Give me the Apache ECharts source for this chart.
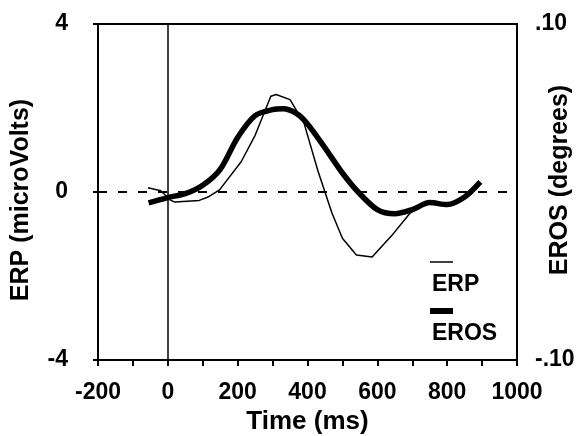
<!DOCTYPE html>
<html>
<head>
<meta charset="utf-8">
<script src="https://cdn.jsdelivr.net/npm/echarts@6/dist/echarts.min.js"></script>
<style>
  html, body { margin: 0; padding: 0; background: #fff; }
  #main { width: 580px; height: 436px; }
</style>
</head>
<body>
<div id="main"></div>
<script>
// ERP (thin line), microvolts
var erpTime = [-57, -20, 5, 20, 90, 115, 148, 210, 250, 295, 310, 350, 390, 430, 470, 500, 540, 585, 640, 694, 740, 790, 840, 895]
var erpValues = [0.1, 0.03, -0.18, -0.24, -0.2, -0.12, 0.05, 0.72, 1.35, 2.28, 2.32, 2.2, 1.64, 0.5, -0.5, -1.1, -1.5, -1.55, -1.05, -0.5, -0.26, -0.32, -0.17, 0.22]

// EROS (thick line), degrees
var erosTime = [-55, 0, 50, 100, 150, 200, 250, 300, 330, 370, 400, 450, 500, 545, 600, 650, 700, 750, 800, 850, 895]
var erosValues = [-0.0065, -0.0033, -0.001, 0.004, 0.0135, 0.0325, 0.0455, 0.049, 0.0495, 0.0465, 0.0405, 0.0263, 0.0113, 0, -0.0105, -0.013, -0.0105, -0.0063, -0.0075, -0.003, 0.006]

var xTicks = [-200, 1000, 200]
var font = 'Liberation Sans, Arial, sans-serif'

var zip = (xs, ys) => xs.map((x, i) => [x, ys[i]])

var chart = echarts.init(document.getElementById('main'))

var option = {
    animation: false,
    backgroundColor: '#fff',
    grid: {
        left: 98, right: 63, top: 24, bottom: 76,
        outerBoundsMode: 'none', containLabel: false,
        show: true, borderColor: '#000', borderWidth: 2
    },
    xAxis: {
        type: 'value',
        min: xTicks[0], max: xTicks[1], interval: xTicks[2],
        axisLine: { onZero: false, lineStyle: { color: '#000', width: 2 } },
        axisTick: { length: 6, lineStyle: { color: '#000', width: 2 } },
        minorTick: { show: true, splitNumber: 2, length: 6, lineStyle: { color: '#000', width: 2 } },
        splitLine: { show: false },
        axisLabel: { color: '#000', fontSize: 23, fontWeight: 'bold', fontFamily: font, margin: 21, formatter: (v) => String(v) },
        name: 'Time (ms)',
        nameLocation: 'middle',
        nameGap: 49,
        nameTextStyle: { color: '#000', fontSize: 26, fontWeight: 'bold', fontFamily: font }
    },
    yAxis: [{
        type: 'value',
        min: -4, max: 4, interval: 4,
        axisLine: { show: true, onZero: false, lineStyle: { color: '#000', width: 2 } },
        axisTick: { show: true, length: 5, lineStyle: { color: '#000', width: 2 } },
        splitLine: { show: false },
        axisLabel: { color: '#000', fontSize: 23, fontWeight: 'bold', fontFamily: font, margin: 30 },
        name: 'ERP (microVolts)',
        nameLocation: 'middle',
        nameRotate: 90,
        nameGap: 64,
        nameMoveOverlap: false,
        nameTextStyle: { color: '#000', fontSize: 25, fontWeight: 'bold', fontFamily: font, padding: [0, 16, 0, 0] }
    }, {
        type: 'value',
        position: 'right',
        min: -0.1, max: 0.1, interval: 0.1,
        axisLine: { show: true, onZero: false, lineStyle: { color: '#000', width: 2 } },
        axisTick: { show: false },
        splitLine: { show: false },
        axisLabel: {
            color: '#000', fontSize: 23, fontWeight: 'bold', fontFamily: font, margin: 18,
            formatter: (v) => Math.abs(v) < 1e-9 ? '' : v.toFixed(2).replace('0.', '.')
        },
        name: 'EROS (degrees)',
        nameLocation: 'middle',
        nameRotate: 90,
        nameGap: 31,
        nameMoveOverlap: false,
        nameTextStyle: { color: '#000', fontSize: 25, fontWeight: 'bold', fontFamily: font, padding: [0, 0, 0, 24] }
    }],
    series: [{
        name: 'ERP',
        type: 'line',
        yAxisIndex: 0,
        data: zip(erpTime, erpValues),
        showSymbol: false,
        lineStyle: { color: '#000', width: 1.5 },
        markLine: {
            silent: true,
            symbol: 'none',
            label: { show: false },
            data: [
                { yAxis: 0, lineStyle: { color: '#000', width: 2, type: [9, 11] } },
                { xAxis: 0, lineStyle: { color: '#000', width: 1.5, type: 'solid' } }
            ]
        }
    }, {
        name: 'EROS',
        type: 'line',
        yAxisIndex: 1,
        data: zip(erosTime, erosValues),
        showSymbol: false,
        smooth: 0.3,
        lineStyle: { color: '#000', width: 5.5 }
    }],
    graphic: [
        { type: 'line', shape: { x1: 430, y1: 262, x2: 453, y2: 262 }, style: { stroke: '#000', lineWidth: 1.5 } },
        { type: 'text', x: 432, y: 285, style: { text: 'ERP', fill: '#000', font: 'bold 23px ' + font, verticalAlign: 'middle' } },
        { type: 'line', shape: { x1: 430, y1: 311, x2: 453, y2: 311 }, style: { stroke: '#000', lineWidth: 6 } },
        { type: 'text', x: 432, y: 334, style: { text: 'EROS', fill: '#000', font: 'bold 23px ' + font, verticalAlign: 'middle' } }
    ]
}

chart.setOption(option)
</script>
</body>
</html>
